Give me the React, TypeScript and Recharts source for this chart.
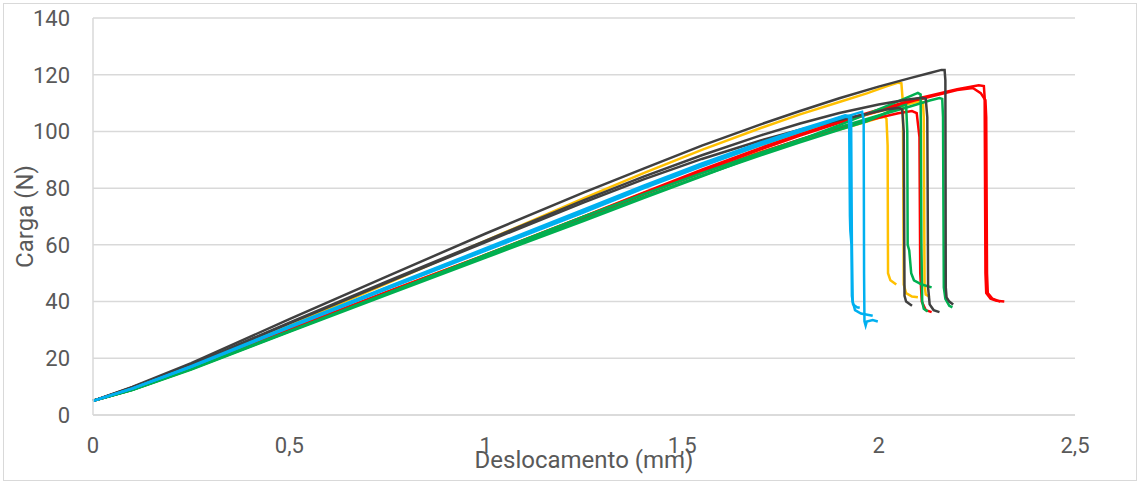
import { LineChart, Line, XAxis, YAxis, CartesianGrid } from 'recharts';

type Pt = [number, number];

const xTicks = [0, 0.5, 1, 1.5, 2, 2.5];
const yTicks = [0, 20, 40, 60, 80, 100, 120, 140];

// deslocamento (mm), carga (N)
const gray1: Pt[] = [
  [0, 5], [0.1, 9.9], [0.25, 18.3], [0.5, 33.8], [0.75, 49], [1, 64], [1.25, 78.5], [1.4, 86.8],
  [1.55, 95], [1.7, 102.5], [1.8, 107.2], [1.9, 111.7], [2, 115.8], [2.08, 118.8], [2.13, 120.6],
  [2.16, 121.7], [2.168, 121.7], [2.17, 118], [2.171, 45], [2.173, 41.5], [2.18, 40], [2.19, 39],
];
const gray2: Pt[] = [
  [0, 5], [0.1, 9.7], [0.25, 17.6], [0.5, 32.3], [0.75, 46.8], [1, 61], [1.25, 75], [1.4, 83],
  [1.55, 90.3], [1.7, 96.8], [1.8, 100.6], [1.9, 104], [1.97, 106.2], [2.02, 107.7], [2.05, 108.3],
  [2.06, 107.8], [2.064, 100], [2.066, 42], [2.07, 40], [2.085, 38.5],
];
const gray3: Pt[] = [
  [0, 5], [0.1, 9.7], [0.25, 17.7], [0.5, 32.6], [0.75, 47.2], [1, 61.5], [1.25, 75.8], [1.4, 84],
  [1.55, 91.6], [1.7, 98.6], [1.8, 102.8], [1.9, 106.5], [2, 109.5], [2.07, 111.2], [2.11, 111.9],
  [2.12, 111.5], [2.124, 105], [2.126, 45], [2.13, 39], [2.14, 37], [2.155, 36.3],
];
const yellow1: Pt[] = [
  [0, 5], [0.1, 9.4], [0.25, 17.3], [0.5, 31.5], [0.75, 46.5], [1, 61.5], [1.25, 76.5], [1.4, 85.2],
  [1.55, 93.5], [1.7, 101.2], [1.8, 106], [1.9, 110.4], [1.97, 113.4], [2.02, 115.9], [2.05, 117.2],
  [2.058, 117], [2.062, 110], [2.064, 46], [2.07, 43], [2.085, 41.8], [2.1, 41.5],
];
const yellow2: Pt[] = [
  [0, 5], [0.1, 9.0], [0.25, 16.5], [0.5, 30], [0.75, 43.5], [1, 56.5], [1.25, 70], [1.4, 78.2],
  [1.55, 85.8], [1.7, 92.8], [1.8, 96.9], [1.9, 100.7], [1.96, 103], [2, 104.7], [2.015, 105.2],
  [2.02, 104.5], [2.023, 95], [2.024, 50], [2.03, 47.5], [2.045, 46],
];
const yellow3: Pt[] = [
  [0, 5], [0.1, 9.3], [0.25, 17], [0.5, 31], [0.75, 45], [1, 58.5], [1.25, 72], [1.4, 80.2],
  [1.55, 88], [1.7, 95.2], [1.8, 99.5], [1.9, 103.5], [2, 107], [2.07, 109.5], [2.105, 110.6],
  [2.113, 110.3], [2.115, 105], [2.117, 46], [2.12, 42.5], [2.13, 41.6],
];
const green1: Pt[] = [
  [0, 5], [0.1, 8.8], [0.25, 16], [0.5, 29.3], [0.75, 42.5], [1, 55.5], [1.25, 68.5], [1.4, 76.4],
  [1.55, 84.2], [1.7, 92], [1.8, 97], [1.9, 102.2], [2, 107.8], [2.06, 111.2], [2.1, 113.6],
  [2.107, 113], [2.109, 60], [2.111, 40], [2.115, 37.5], [2.125, 36.5],
];
const green2: Pt[] = [
  [0, 5], [0.1, 8.9], [0.25, 16.2], [0.5, 29.5], [0.75, 43], [1, 56], [1.25, 69], [1.4, 76.8],
  [1.55, 84.4], [1.7, 91.6], [1.8, 96.2], [1.9, 100.6], [1.97, 103.6], [2.03, 107.2], [2.06, 109],
  [2.07, 109.4], [2.073, 100], [2.074, 60], [2.078, 58], [2.083, 50], [2.09, 47.5], [2.11, 46],
  [2.135, 45],
];
const green3: Pt[] = [
  [0, 5], [0.1, 8.9], [0.25, 16.3], [0.5, 29.6], [0.75, 43], [1, 56.5], [1.25, 70], [1.4, 77.8],
  [1.55, 85.3], [1.7, 92.5], [1.8, 97.1], [1.9, 101.5], [2, 105.6], [2.08, 108.8], [2.13, 110.9],
  [2.155, 111.8], [2.162, 111.5], [2.164, 105], [2.166, 45], [2.17, 41], [2.18, 38.5], [2.188, 38],
];
const red1: Pt[] = [
  [0, 5], [0.1, 9.0], [0.25, 16.6], [0.5, 30.2], [0.75, 43.5], [1, 56.5], [1.25, 70], [1.4, 78.3],
  [1.55, 86.5], [1.7, 94.2], [1.8, 99], [1.9, 103.5], [2, 107.7], [2.1, 111.6], [2.2, 114.9],
  [2.255, 116.3], [2.268, 116], [2.27, 112], [2.272, 50], [2.274, 43], [2.285, 41], [2.3, 40.3],
  [2.32, 40],
];
const red2: Pt[] = [
  [0, 5], [0.1, 9.0], [0.25, 16.4], [0.5, 30], [0.75, 43.2], [1, 56.2], [1.25, 69.6], [1.4, 77.9],
  [1.55, 86], [1.7, 93.7], [1.8, 98.5], [1.9, 103], [2, 107.2], [2.1, 111.2], [2.2, 114.6],
  [2.24, 115.3], [2.26, 113.5], [2.272, 111], [2.274, 105], [2.276, 50], [2.278, 43], [2.29, 41],
  [2.31, 40],
];
const red3: Pt[] = [
  [0, 5], [0.1, 9.0], [0.25, 16.5], [0.5, 30], [0.75, 43.3], [1, 56.3], [1.25, 69.5], [1.4, 77.6],
  [1.55, 85.4], [1.7, 92.6], [1.8, 97.2], [1.9, 101.3], [2, 104.8], [2.05, 106.4], [2.085, 107.2],
  [2.097, 106.5], [2.104, 98], [2.106, 50], [2.11, 40], [2.12, 37], [2.135, 36.3],
];
const blue1: Pt[] = [
  [0, 5], [0.1, 9.3], [0.25, 17], [0.5, 31], [0.75, 44.8], [1, 58.3], [1.25, 72], [1.4, 80.3],
  [1.55, 88.2], [1.7, 95.6], [1.8, 100.2], [1.87, 103.2], [1.91, 105.3], [1.925, 105], [1.927, 70],
  [1.928, 65], [1.931, 60], [1.932, 42], [1.935, 39], [1.945, 38], [1.952, 37.8],
];
const blue2: Pt[] = [
  [0, 5], [0.1, 9.4], [0.25, 17.2], [0.5, 31.3], [0.75, 45.2], [1, 58.8], [1.25, 72.5], [1.4, 80.8],
  [1.55, 88.7], [1.7, 96.1], [1.8, 100.7], [1.87, 103.7], [1.915, 105.7], [1.93, 105.3], [1.932, 60],
  [1.934, 40], [1.94, 37], [1.955, 35.8], [1.985, 35],
];
const blue3: Pt[] = [
  [0, 5], [0.1, 9.3], [0.25, 17], [0.5, 30.8], [0.75, 44.5], [1, 58], [1.25, 71.5], [1.4, 79.8],
  [1.55, 87.7], [1.7, 95.2], [1.8, 99.9], [1.88, 103.6], [1.94, 106.2], [1.958, 106.9], [1.962, 104],
  [1.963, 50], [1.964, 33], [1.967, 31.5], [1.97, 33], [1.985, 33.5], [1.998, 33],
];

const GRAY = '#404040';
const RED = '#FF0000';
const YELLOW = '#FFC000';
const GREEN = '#00B050';
const BLUE = '#00B0F0';

const curves = [
  { id: 'y1', color: YELLOW, pts: yellow1 },
  { id: 'y2', color: YELLOW, pts: yellow2 },
  { id: 'y3', color: YELLOW, pts: yellow3 },
  { id: 'r1', color: RED, pts: red1 },
  { id: 'r2', color: RED, pts: red2 },
  { id: 'r3', color: RED, pts: red3 },
  { id: 'g1', color: GREEN, pts: green1 },
  { id: 'g2', color: GREEN, pts: green2 },
  { id: 'g3', color: GREEN, pts: green3 },
  { id: 'k1', color: GRAY, pts: gray1 },
  { id: 'k2', color: GRAY, pts: gray2 },
  { id: 'k3', color: GRAY, pts: gray3 },
  { id: 'b1', color: BLUE, pts: blue1 },
  { id: 'b2', color: BLUE, pts: blue2 },
  { id: 'b3', color: BLUE, pts: blue3 },
];

const fmt = (v: number) => String(v).replace('.', ',');
const tickStyle = { fill: '#595959', fontSize: 22, fontFamily: 'Roboto' };

export default function App() {
  return (
    <div style={{ position: 'absolute', left: 0, top: 0, width: 1137, height: 482, background: '#fff' }}>
      <div
        style={{
          position: 'absolute', left: 3, top: 3, width: 1134, height: 478,
          boxSizing: 'border-box', border: '1px solid #d9d9d9',
        }}
      />
      <LineChart
        width={1137}
        height={482}
        margin={{ top: 18, right: 62, bottom: 7, left: 0 }}
        style={{ position: 'absolute', left: 0, top: 0 }}
      >
        <CartesianGrid vertical={false} stroke="#d9d9d9" strokeWidth={1.5} />
        <XAxis
          type="number"
          dataKey="x"
          domain={[0, 2.5]}
          ticks={xTicks}
          tickFormatter={fmt}
          height={60}
          tickLine={false}
          tickMargin={16}
          axisLine={{ stroke: '#d9d9d9', strokeWidth: 1.5 }}
          tick={tickStyle}
          label={{
            value: 'Deslocamento (mm)', position: 'insideBottom', offset: 7,
            style: { fill: '#595959', fontSize: 24, fontFamily: 'Roboto' },
          }}
        />
        <YAxis
          type="number"
          domain={[0, 140]}
          ticks={yTicks}
          width={93}
          tickLine={false}
          tickMargin={17}
          axisLine={{ stroke: '#d9d9d9', strokeWidth: 1.5 }}
          tick={tickStyle}
          label={{
            value: 'Carga (N)', angle: -90, position: 'insideLeft', offset: 24,
            style: { fill: '#595959', fontSize: 24, fontFamily: 'Roboto', textAnchor: 'middle' },
          }}
        />
        {curves.map((c) => (
          <Line
            key={c.id}
            data={c.pts.map(([x, y]) => ({ x, y }))}
            dataKey="y"
            type="linear"
            stroke={c.color}
            strokeWidth={2.5}
            dot={false}
            activeDot={false}
            isAnimationActive={false}
          />
        ))}
      </LineChart>
    </div>
  );
}
